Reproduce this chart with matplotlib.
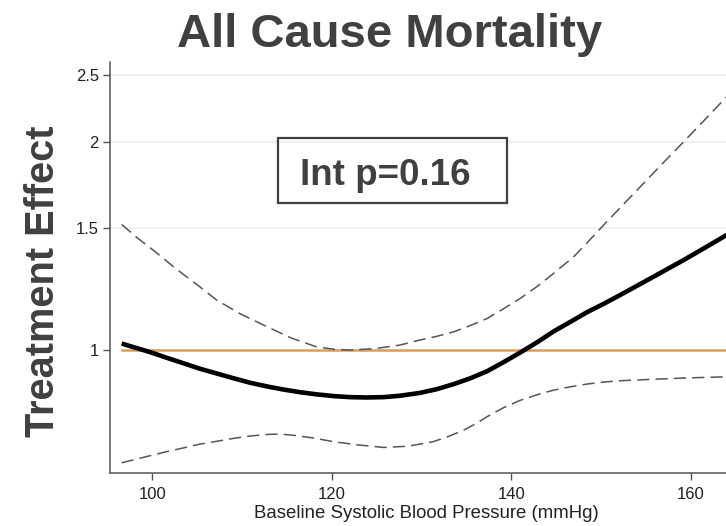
import matplotlib
matplotlib.use("Agg")
import matplotlib.pyplot as plt
from matplotlib.patches import Rectangle
from matplotlib.ticker import FixedLocator, FixedFormatter, NullLocator

plt.rcParams["font.family"] = ["Liberation Sans", "DejaVu Sans"]

# estimated treatment effect (hazard ratio) vs baseline SBP
sbp_main = [96.6, 99.7, 101.6, 103.5, 105.3, 107.2, 109.0, 110.9, 112.8, 114.6,
            116.5, 118.3, 120.2, 122.0, 123.9, 125.8, 127.6, 129.8, 131.7, 133.6,
            135.4, 137.3, 139.1, 141.0, 142.9, 144.7, 146.6, 148.4, 150.3, 152.1,
            155.6, 159.2, 161.5, 164.0]
hr_main = [1.022, 0.994, 0.975, 0.957, 0.940, 0.925, 0.911, 0.897, 0.886, 0.877,
           0.869, 0.863, 0.858, 0.855, 0.854, 0.855, 0.859, 0.867, 0.878, 0.893,
           0.910, 0.932, 0.960, 0.992, 1.027, 1.064, 1.099, 1.134, 1.167, 1.201,
           1.272, 1.350, 1.405, 1.468]

# upper confidence band
sbp_upper = [96.6, 98.3, 100.1, 102.7, 105.3, 107.2, 109.9, 112.8, 115.5, 118.3,
             120.2, 122.0, 124.8, 127.6, 129.8, 131.7, 133.6, 135.4, 137.3, 139.1,
             141.0, 142.9, 144.7, 146.9, 148.4, 150.7, 153.5, 156.3, 159.1, 161.6,
             164.0]
hr_upper = [1.520, 1.455, 1.396, 1.310, 1.235, 1.181, 1.127, 1.081, 1.041, 1.011,
            1.003, 1.000, 1.005, 1.017, 1.034, 1.047, 1.063, 1.085, 1.111, 1.147,
            1.188, 1.237, 1.291, 1.363, 1.428, 1.537, 1.677, 1.831, 1.996, 2.158,
            2.327]

# lower confidence band
sbp_lower = [96.6, 99.1, 101.6, 103.5, 105.3, 107.2, 109.0, 110.9, 112.8, 114.2,
             115.7, 118.0, 120.2, 123.0, 125.8, 128.5, 131.3, 133.0, 134.7, 136.0,
             137.3, 139.1, 141.0, 142.9, 144.7, 146.6, 148.4, 150.3, 152.1, 155.5,
             159.0, 164.0]
hr_lower = [0.687, 0.700, 0.713, 0.722, 0.731, 0.738, 0.745, 0.751, 0.755, 0.756,
            0.753, 0.746, 0.737, 0.729, 0.723, 0.726, 0.737, 0.750, 0.766, 0.782,
            0.801, 0.825, 0.846, 0.862, 0.875, 0.885, 0.893, 0.899, 0.903, 0.907,
            0.911, 0.915]

ref_x = [96.6, 166]
ref_y = [1, 1]

y_ticks = [1, 1.5, 2, 2.5]
y_labels = ["1", "1.5", "2", "2.5"]
x_ticks = [100, 120, 140, 160]

W, H = 726, 526
fig = plt.figure(figsize=(7.26, 5.26), dpi=100)
ax = fig.add_axes([110 / W, 1 - 473 / H, (742 - 110) / W, (473 - 62) / H])

ax.set_yscale("log")
ax.set_xlim(95.3, 165.7)
ax.set_ylim(0.664, 2.612)

for t in y_ticks[1:]:
    ax.axhline(t, color="#EDEDED", lw=1.2, zorder=0)

ax.plot(ref_x, ref_y, color="#E59A4E", lw=1.8, zorder=2)
ax.plot(sbp_upper, hr_upper, color="#555555", lw=1.1, dashes=(8, 4), zorder=3)
ax.plot(sbp_lower, hr_lower, color="#555555", lw=1.1, dashes=(8, 4), zorder=3)
ax.plot(sbp_main, hr_main, color="black", lw=3.3, solid_capstyle="butt",
        solid_joinstyle="round", zorder=4)

ax.yaxis.set_major_locator(FixedLocator(y_ticks))
ax.yaxis.set_major_formatter(FixedFormatter(y_labels))
ax.yaxis.set_minor_locator(NullLocator())
ax.set_xticks(x_ticks)

for s in ["top", "right"]:
    ax.spines[s].set_visible(False)
for s in ["left", "bottom"]:
    ax.spines[s].set_color("#555555")
    ax.spines[s].set_linewidth(1.1)
ax.tick_params(axis="both", colors="#555555", labelcolor="#222222",
               labelsize=12, length=5, width=1)
ax.tick_params(axis="y", pad=3)
ax.tick_params(axis="x", pad=5)

ax.set_xlabel("Baseline Systolic Blood Pressure (mmHg)", fontsize=13.4,
              color="#222222", labelpad=2)

fig.text(390 / W, 1 - 47 / H, "All Cause Mortality", fontsize=34,
         fontweight="bold", color="#404040", ha="center", va="baseline")
fig.text(43 / W, 1 - 281 / H, "Treatment Effect", fontsize=28.6,
         fontweight="bold", color="#404040", rotation=90, ha="center", va="center")

box = Rectangle((278 / W, 1 - 203 / H), (507 - 278) / W, (203 - 138) / H,
                transform=fig.transFigure, fill=False, edgecolor="#404040", lw=1.6)
fig.patches.append(box)
fig.text(385 / W, 1 - 185 / H, "Int p=0.16", fontsize=26.5, fontweight="bold",
         color="#404040", ha="center", va="baseline")

fig.savefig("out.png", dpi=100)
